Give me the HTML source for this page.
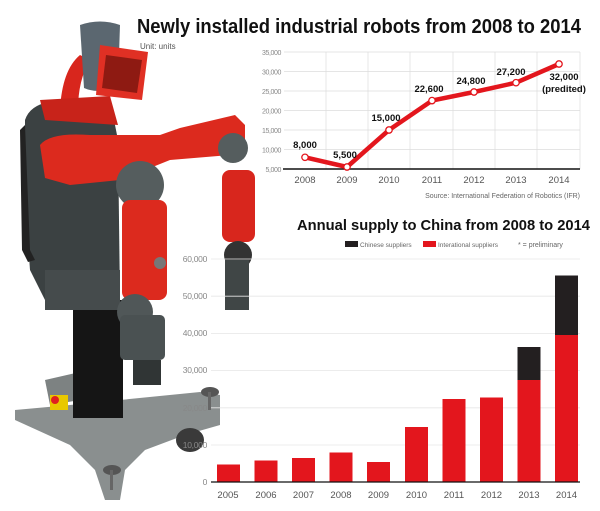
<!DOCTYPE html>
<html><head><meta charset="utf-8"><style>
html,body{margin:0;padding:0;background:#fff;width:600px;height:511px;overflow:hidden}
svg{display:block;font-family:"Liberation Sans",sans-serif}
</style></head><body>
<svg width="600" height="511" viewBox="0 0 600 511" xmlns="http://www.w3.org/2000/svg">
<!-- ROBOT -->
<g>
  <!-- base -->
  <path d="M15,410 L70,405 L120,400 L200,392 L220,395 L220,425 L185,435 L145,450 L125,470 L120,500 L105,500 L95,470 L70,445 L15,420 Z" fill="#8a8f8f"/>
  <path d="M45,380 L80,372 L80,400 L50,405 Z" fill="#7d8282"/>
  <ellipse cx="190" cy="440" rx="14" ry="12" fill="#3a3a3a"/>
  <ellipse cx="210" cy="392" rx="9" ry="5" fill="#555"/>
  <rect x="208" y="392" width="3" height="18" fill="#666"/>
  <ellipse cx="112" cy="470" rx="9" ry="5" fill="#555"/>
  <rect x="110" y="470" width="3" height="20" fill="#666"/>
  <rect x="50" y="395" width="18" height="15" fill="#e8c800"/>
  <circle cx="55" cy="400" r="4" fill="#e02020"/>
  <!-- column -->
  <rect x="73" y="300" width="50" height="118" fill="#151515"/>
  <!-- body -->
  <path d="M25,120 Q30,105 50,102 L110,100 L118,140 L120,300 L95,310 L45,300 L30,270 L25,200 Z" fill="#3b4142"/>
  <path d="M20,130 L25,125 L30,250 L35,260 L28,262 L22,250 Z" fill="#222"/>
  <rect x="45" y="270" width="75" height="40" fill="#454b4c"/>
  <!-- neck red arc -->
  <path d="M60,110 Q62,70 80,55 L90,60 Q78,80 78,110 Z" fill="#d8261d"/>
  <path d="M40,100 L110,96 L118,125 L45,120 Z" fill="#c8231a"/>
  <!-- head -->
  <path d="M80,25 Q100,18 120,25 L118,85 Q100,95 84,88 Z" fill="#5b6770"/>
  <path d="M100,45 L148,52 L142,100 L96,95 Z" fill="#e03024"/>
  <path d="M106,55 L142,60 L137,93 L102,88 Z" fill="#8e1a12"/>
  <!-- shoulders/arms -->
  <path d="M40,145 Q50,132 90,135 L160,135 L180,128 L235,115 L245,125 L245,150 L230,155 L170,160 L120,180 L70,185 L45,178 Z" fill="#dc2a1e"/>
  <circle cx="140" cy="185" r="24" fill="#555d5e"/>
  <circle cx="233" cy="148" r="15" fill="#555d5e"/>
  <!-- right (far) arm -->
  <rect x="222" y="170" width="33" height="72" rx="8" fill="#d8261d"/>
  <circle cx="238" cy="255" r="14" fill="#333"/>
  <rect x="225" y="260" width="24" height="50" fill="#404646"/>
  <!-- near arm -->
  <rect x="122" y="200" width="45" height="100" rx="8" fill="#dc2a1e"/>
  <circle cx="160" cy="263" r="6" fill="#777"/>
  <circle cx="135" cy="312" r="18" fill="#505758"/>
  <rect x="120" y="315" width="45" height="45" rx="5" fill="#4a5152"/>
  <rect x="133" y="360" width="28" height="25" fill="#303535"/>
</g>

<!-- TITLE 1 -->
<text x="137" y="33" font-size="20.5" font-weight="bold" fill="#111" textLength="444" lengthAdjust="spacingAndGlyphs">Newly installed industrial robots from 2008 to 2014</text>
<text x="140" y="49" font-size="8" fill="#555">Unit: units</text>

<!-- LINE CHART -->
<g font-size="7" fill="#888" text-anchor="end" letter-spacing="-0.4">
  <text x="281" y="55">35,000</text><text x="281" y="74.5">30,000</text><text x="281" y="94">25,000</text>
  <text x="281" y="113.5">20,000</text><text x="281" y="133">15,000</text><text x="281" y="152.5">10,000</text>
  <text x="281" y="172">5,000</text>
</g>
<g stroke="#ddd" stroke-width="0.7">
  <line x1="284" y1="52" x2="580" y2="52"/><line x1="284" y1="71.5" x2="580" y2="71.5"/>
  <line x1="284" y1="91" x2="580" y2="91"/><line x1="284" y1="110.5" x2="580" y2="110.5"/>
  <line x1="284" y1="130" x2="580" y2="130"/><line x1="284" y1="149.5" x2="580" y2="149.5"/>
  <line x1="326" y1="52" x2="326" y2="169"/><line x1="368" y1="52" x2="368" y2="169"/>
  <line x1="410" y1="52" x2="410" y2="169"/><line x1="453" y1="52" x2="453" y2="169"/>
  <line x1="495" y1="52" x2="495" y2="169"/><line x1="537" y1="52" x2="537" y2="169"/>
  <line x1="580" y1="52" x2="580" y2="169"/>
</g>
<line x1="283" y1="169" x2="580" y2="169" stroke="#111" stroke-width="1.5"/>
<polyline points="305,157.3 347,167 389,130 432,100.6 474,92 516,82.7 559,64" fill="none" stroke="#e3161d" stroke-width="4.5" stroke-linejoin="round"/>
<g fill="#fff" stroke="#e3161d" stroke-width="1.3">
  <circle cx="305" cy="157.3" r="3.2"/><circle cx="347" cy="167" r="3.2"/><circle cx="389" cy="130" r="3.2"/>
  <circle cx="432" cy="100.6" r="3.2"/><circle cx="474" cy="92" r="3.2"/><circle cx="516" cy="82.7" r="3.2"/><circle cx="559" cy="64" r="3.2"/>
</g>
<g font-size="9.5" font-weight="bold" fill="#111" text-anchor="middle">
  <text x="305" y="148">8,000</text><text x="345" y="158">5,500</text><text x="386" y="121">15,000</text>
  <text x="429" y="92">22,600</text><text x="471" y="84">24,800</text><text x="511" y="75">27,200</text>
  <text x="564" y="80">32,000</text><text x="564" y="92">(predited)</text>
</g>
<g font-size="9.5" fill="#555" text-anchor="middle">
  <text x="305" y="183">2008</text><text x="347" y="183">2009</text><text x="389" y="183">2010</text>
  <text x="432" y="183">2011</text><text x="474" y="183">2012</text><text x="516" y="183">2013</text><text x="559" y="183">2014</text>
</g>
<text x="580" y="198" font-size="7" fill="#666" text-anchor="end">Source: International Federation of Robotics (IFR)</text>

<!-- TITLE 2 -->
<text x="297" y="230" font-size="15" font-weight="bold" fill="#111" textLength="293" lengthAdjust="spacingAndGlyphs">Annual supply to China from 2008 to 2014</text>
<rect x="345" y="241" width="13" height="6" fill="#231f20"/>
<text x="360" y="247" font-size="6.5" fill="#666">Chinese suppliers</text>
<rect x="423" y="241" width="13" height="6" fill="#e3161d"/>
<text x="438" y="247" font-size="6.5" fill="#666">Interational suppliers</text>
<text x="518" y="247" font-size="7" fill="#666">* = preliminary</text>

<!-- BAR CHART -->
<g stroke="#e6e6e6" stroke-width="0.8">
  <line x1="211" y1="259" x2="580" y2="259"/><line x1="211" y1="296.2" x2="580" y2="296.2"/>
  <line x1="211" y1="333.4" x2="580" y2="333.4"/><line x1="211" y1="370.6" x2="580" y2="370.6"/>
  <line x1="211" y1="407.8" x2="580" y2="407.8"/><line x1="211" y1="445" x2="580" y2="445"/>
</g>
<g font-size="8.5" fill="#888" text-anchor="end" letter-spacing="-0.3">
  <text x="207" y="262">60,000</text><text x="207" y="299">50,000</text><text x="207" y="336">40,000</text>
  <text x="207" y="373">30,000</text><text x="207" y="411">20,000</text><text x="207" y="448">10,000</text>
  <text x="207" y="485">0</text>
</g>
<g fill="#e3161d">
  <rect x="217" y="464.5" width="23" height="17.5"/>
  <rect x="254.5" y="460.5" width="23" height="21.5"/>
  <rect x="292" y="458" width="23" height="24"/>
  <rect x="329.5" y="452.5" width="23" height="29.5"/>
  <rect x="367" y="462" width="23" height="20"/>
  <rect x="405" y="427" width="23" height="55"/>
  <rect x="442.5" y="399" width="23" height="83"/>
  <rect x="480" y="397.5" width="23" height="84.5"/>
  <rect x="517.5" y="380" width="23" height="102"/>
  <rect x="555" y="335" width="23" height="147"/>
</g>
<g fill="#231f20">
  <rect x="517.5" y="347" width="23" height="33"/>
  <rect x="555" y="275.5" width="23" height="59.5"/>
</g>
<line x1="211" y1="482" x2="580" y2="482" stroke="#111" stroke-width="1.3"/>
<g font-size="9.5" fill="#555" text-anchor="middle">
  <text x="228" y="498">2005</text><text x="266" y="498">2006</text><text x="303.5" y="498">2007</text>
  <text x="341" y="498">2008</text><text x="378.5" y="498">2009</text><text x="416.5" y="498">2010</text>
  <text x="454" y="498">2011</text><text x="491.5" y="498">2012</text><text x="529" y="498">2013</text><text x="566.5" y="498">2014</text>
</g>
</svg>
</body></html>
